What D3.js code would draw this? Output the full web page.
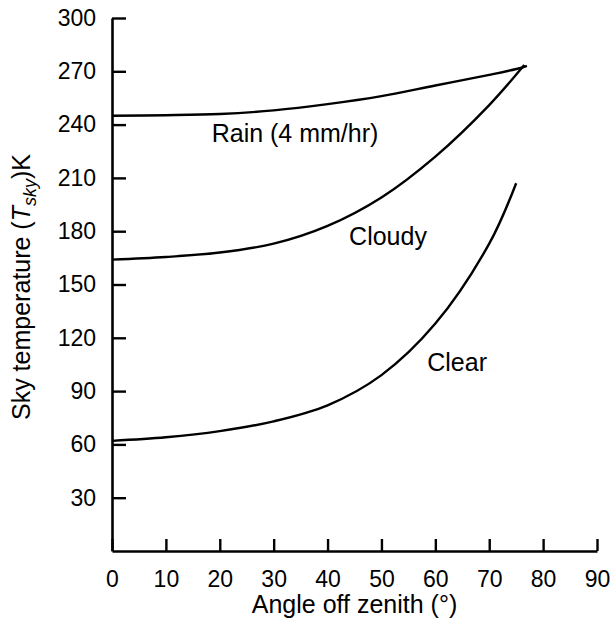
<!DOCTYPE html>
<html>
<head>
<meta charset="utf-8">
<script src="https://cdn.jsdelivr.net/npm/d3@7"></script>
<style>
  html, body { margin: 0; padding: 0; background: #fff; }
  svg { display: block; font-family: 'Liberation Sans', Arial, sans-serif; }
</style>
</head>
<body>
<div id="chart"></div>
<script>
// Sky temperature vs angle off zenith
const xTicks = [0, 10, 20, 30, 40, 50, 60, 70, 80, 90];
const yTicks = [30, 60, 90, 120, 150, 180, 210, 240, 270, 300];

const rainAngle = [0, 10, 20, 30, 40, 50, 60, 70, 76, 77];
const rainTemp = [245, 245.3, 246, 248, 251.5, 256, 262, 268, 272, 273];

const cloudyAngle = [0, 10, 20, 30, 40, 50, 60, 70, 76.5];
const cloudyTemp = [164, 165.5, 168, 173, 183, 199, 222, 251, 273.5];

const clearAngle = [0, 10, 20, 30, 40, 50, 60, 70, 75];
const clearTemp = [62, 64, 67.5, 73, 82, 99, 128, 173, 207];

const config = {
    width: 611,
    height: 623,
    margin: { top: 18, right: 14, bottom: 72, left: 112 }
};

const width = config.width - config.margin.left - config.margin.right;
const height = config.height - config.margin.top - config.margin.bottom;

const svg = d3.select('#chart')
    .append('svg')
    .attr('width', config.width)
    .attr('height', config.height)
    .append('g')
    .attr('transform', `translate(${config.margin.left},${config.margin.top})`);

// Scales
const x = d3.scaleLinear().domain([0, 90]).range([0, width]);
const y = d3.scaleLinear().domain([0, 300]).range([height, 0]);

// X axis (ticks point inward)
const xAxis = svg.append('g')
    .attr('transform', `translate(0,${height})`)
    .call(d3.axisBottom(x).tickValues(xTicks).tickSize(-12).tickPadding(20).tickSizeOuter(0));

// Y axis
const yAxis = svg.append('g')
    .call(d3.axisLeft(y).tickValues(yTicks).tickSize(-14).tickPadding(16).tickSizeOuter(0));

[xAxis, yAxis].forEach(ax => {
    ax.select('.domain').attr('stroke', '#000').attr('stroke-width', 2.6);
    ax.selectAll('.tick line').attr('stroke', '#000').attr('stroke-width', 2.4);
    ax.selectAll('.tick text')
        .attr('fill', '#000')
        .style('font-size', '23px')
        .style('font-family', "'Liberation Sans', Arial, sans-serif");
});
xAxis.selectAll('.tick text').attr('dy', '0.71em');

// Axis titles
svg.append('text')
    .attr('x', x(45))
    .attr('y', height + 62)
    .attr('text-anchor', 'middle')
    .style('font-size', '25px')
    .text('Angle off zenith (°)');

const yTitle = svg.append('text')
    .attr('transform', 'rotate(-90)')
    .attr('x', -(420 - config.margin.top))
    .attr('y', 30 - config.margin.left)
    .attr('text-anchor', 'start')
    .style('font-size', '25px');
yTitle.append('tspan').text('Sky temperature (');
yTitle.append('tspan').style('font-style', 'italic').text('T');
yTitle.append('tspan').style('font-style', 'italic').style('font-size', '18px').attr('dy', 6).text('sky');
yTitle.append('tspan').attr('dy', -6).text(')K');

// Curves
const line = d3.line()
    .x(d => x(d[0]))
    .y(d => y(d[1]))
    .curve(d3.curveCatmullRom.alpha(0.5));

const series = [
    { name: 'Rain (4 mm/hr)', pts: d3.zip(rainAngle, rainTemp), label: [18.5, 230] },
    { name: 'Cloudy', pts: d3.zip(cloudyAngle, cloudyTemp), label: [44, 172] },
    { name: 'Clear', pts: d3.zip(clearAngle, clearTemp), label: [58.5, 101.5] }
];

series.forEach(s => {
    svg.append('path')
        .datum(s.pts)
        .attr('fill', 'none')
        .attr('stroke', '#000')
        .attr('stroke-width', 2.4)
        .attr('d', line);

    svg.append('text')
        .attr('x', x(s.label[0]))
        .attr('y', y(s.label[1]))
        .style('font-size', '25px')
        .text(s.name);
});
</script>
</body>
</html>
